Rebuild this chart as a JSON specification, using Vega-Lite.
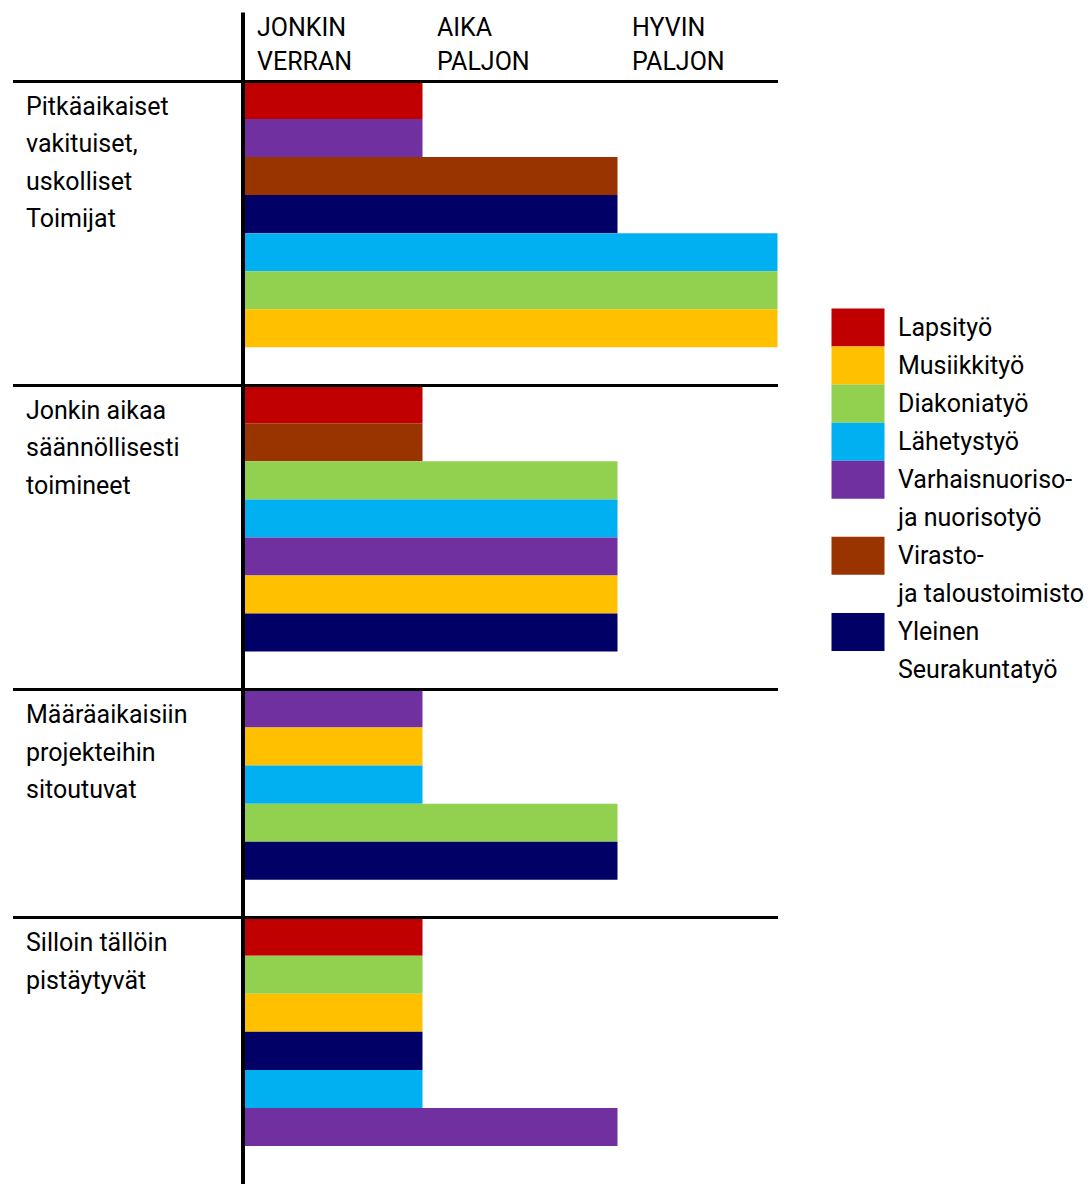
{
  "$schema": "https://vega.github.io/schema/vega-lite/v6.json",
  "background": "white",
  "padding": {"left": 10.5, "top": 10, "right": 0, "bottom": 0},
  "bounds": "flush",
  "spacing": 54,
  "config": {"view": {"stroke": null}, "font": "Roboto"},
  "datasets": {
    "palkit": [
      {"ryhma": "Pitkäaikaiset vakituiset, uskolliset Toimijat", "rivi": "1-1", "tyoala": "Lapsityö", "taso": 1},
      {"ryhma": "Pitkäaikaiset vakituiset, uskolliset Toimijat", "rivi": "1-2", "tyoala": "Varhaisnuoriso- ja nuorisotyö", "taso": 1},
      {"ryhma": "Pitkäaikaiset vakituiset, uskolliset Toimijat", "rivi": "1-3", "tyoala": "Virasto- ja taloustoimisto", "taso": 2},
      {"ryhma": "Pitkäaikaiset vakituiset, uskolliset Toimijat", "rivi": "1-4", "tyoala": "Yleinen Seurakuntatyö", "taso": 2},
      {"ryhma": "Pitkäaikaiset vakituiset, uskolliset Toimijat", "rivi": "1-5", "tyoala": "Lähetystyö", "taso": 3},
      {"ryhma": "Pitkäaikaiset vakituiset, uskolliset Toimijat", "rivi": "1-6", "tyoala": "Diakoniatyö", "taso": 3},
      {"ryhma": "Pitkäaikaiset vakituiset, uskolliset Toimijat", "rivi": "1-7", "tyoala": "Musiikkityö", "taso": 3},
      {"ryhma": "Jonkin aikaa säännöllisesti toimineet", "rivi": "2-1", "tyoala": "Lapsityö", "taso": 1},
      {"ryhma": "Jonkin aikaa säännöllisesti toimineet", "rivi": "2-2", "tyoala": "Virasto- ja taloustoimisto", "taso": 1},
      {"ryhma": "Jonkin aikaa säännöllisesti toimineet", "rivi": "2-3", "tyoala": "Diakoniatyö", "taso": 2},
      {"ryhma": "Jonkin aikaa säännöllisesti toimineet", "rivi": "2-4", "tyoala": "Lähetystyö", "taso": 2},
      {"ryhma": "Jonkin aikaa säännöllisesti toimineet", "rivi": "2-5", "tyoala": "Varhaisnuoriso- ja nuorisotyö", "taso": 2},
      {"ryhma": "Jonkin aikaa säännöllisesti toimineet", "rivi": "2-6", "tyoala": "Musiikkityö", "taso": 2},
      {"ryhma": "Jonkin aikaa säännöllisesti toimineet", "rivi": "2-7", "tyoala": "Yleinen Seurakuntatyö", "taso": 2},
      {"ryhma": "Määräaikaisiin projekteihin sitoutuvat", "rivi": "3-1", "tyoala": "Varhaisnuoriso- ja nuorisotyö", "taso": 1},
      {"ryhma": "Määräaikaisiin projekteihin sitoutuvat", "rivi": "3-2", "tyoala": "Musiikkityö", "taso": 1},
      {"ryhma": "Määräaikaisiin projekteihin sitoutuvat", "rivi": "3-3", "tyoala": "Lähetystyö", "taso": 1},
      {"ryhma": "Määräaikaisiin projekteihin sitoutuvat", "rivi": "3-4", "tyoala": "Diakoniatyö", "taso": 2},
      {"ryhma": "Määräaikaisiin projekteihin sitoutuvat", "rivi": "3-5", "tyoala": "Yleinen Seurakuntatyö", "taso": 2},
      {"ryhma": "Silloin tällöin pistäytyvät", "rivi": "4-1", "tyoala": "Lapsityö", "taso": 1},
      {"ryhma": "Silloin tällöin pistäytyvät", "rivi": "4-2", "tyoala": "Diakoniatyö", "taso": 1},
      {"ryhma": "Silloin tällöin pistäytyvät", "rivi": "4-3", "tyoala": "Musiikkityö", "taso": 1},
      {"ryhma": "Silloin tällöin pistäytyvät", "rivi": "4-4", "tyoala": "Yleinen Seurakuntatyö", "taso": 1},
      {"ryhma": "Silloin tällöin pistäytyvät", "rivi": "4-5", "tyoala": "Lähetystyö", "taso": 1},
      {"ryhma": "Silloin tällöin pistäytyvät", "rivi": "4-6", "tyoala": "Varhaisnuoriso- ja nuorisotyö", "taso": 2}
    ],
    "selite": [
      {"tyoala": "Lapsityö", "rivi": "Lapsityö"},
      {"tyoala": "Musiikkityö", "rivi": "Musiikkityö"},
      {"tyoala": "Diakoniatyö", "rivi": "Diakoniatyö"},
      {"tyoala": "Lähetystyö", "rivi": "Lähetystyö"},
      {"tyoala": "Varhaisnuoriso- ja nuorisotyö", "rivi": "Varhaisnuoriso-"},
      {"tyoala": "Virasto- ja taloustoimisto", "rivi": "Virasto-"},
      {"tyoala": "Yleinen Seurakuntatyö", "rivi": "Yleinen"}
    ]
  },
  "hconcat": [
    {
      "width": 535,
      "height": 1103,
      "data": {"name": "palkit"},
      "mark": {"type": "bar"},
      "encoding": {
        "x": {
          "field": "taso",
          "type": "quantitative",
          "scale": {"domain": [0, 1, 2, 3], "range": [0, 180, 375, 535], "nice": false, "zero": true},
          "axis": {
            "orient": "top",
            "values": [0, 1, 2],
            "title": null,
            "domain": false,
            "grid": false,
            "ticks": true,
            "tickSize": 69,
            "tickWidth": 4,
            "tickColor": {"condition": {"test": "datum.value == 0", "value": "black"}, "value": "transparent"},
            "labelExpr": "datum.value == 0 ? ['JONKIN', 'VERRAN'] : datum.value == 1 ? ['AIKA', 'PALJON'] : ['HYVIN', 'PALJON']",
            "labelAlign": "left",
            "labelBaseline": "top",
            "labelOffset": 14,
            "labelPadding": -3,
            "labelFont": "Roboto",
            "labelFontSize": 25,
            "labelLineHeight": 34,
            "labelColor": "black",
            "labelBound": false,
            "labelFlush": false,
            "labelOverlap": false
          }
        },
        "y": {
          "field": "rivi",
          "type": "nominal",
          "scale": {
            "domain": ["1-1","1-2","1-3","1-4","1-5","1-6","1-7","1-8","2-1","2-2","2-3","2-4","2-5","2-6","2-7","2-8","3-1","3-2","3-3","3-4","3-5","3-6","4-1","4-2","4-3","4-4","4-5","4-6","4-7"],
            "paddingInner": 0,
            "paddingOuter": 0
          },
          "axis": {
            "orient": "left",
            "values": ["1-1", "2-1", "3-1", "4-1"],
            "bandPosition": 0,
            "title": null,
            "domain": true,
            "domainColor": "black",
            "domainWidth": 4,
            "ticks": true,
            "tickSize": 230,
            "tickWidth": 3,
            "tickColor": "black",
            "grid": true,
            "gridColor": "black",
            "gridWidth": 3,
            "gridOpacity": 1,
            "labelExpr": "datum.value == '1-1' ? ['Pitkäaikaiset', 'vakituiset,', 'uskolliset', 'Toimijat'] : datum.value == '2-1' ? ['Jonkin aikaa', 'säännöllisesti', 'toimineet'] : datum.value == '3-1' ? ['Määräaikaisiin', 'projekteihin', 'sitoutuvat'] : ['Silloin tällöin', 'pistäytyvät']",
            "labelAlign": "left",
            "labelBaseline": "top",
            "labelPadding": -13,
            "labelOffset": -5.5,
            "labelFont": "Roboto",
            "labelFontSize": 25,
            "labelLineHeight": 37.5,
            "labelColor": "black",
            "labelLimit": 400,
            "labelBound": false,
            "labelOverlap": false,
            "labelFlush": false,
            "zindex": 1
          }
        },
        "color": {
          "field": "tyoala",
          "type": "nominal",
          "scale": {
            "domain": ["Lapsityö", "Musiikkityö", "Diakoniatyö", "Lähetystyö", "Varhaisnuoriso- ja nuorisotyö", "Virasto- ja taloustoimisto", "Yleinen Seurakuntatyö"],
            "range": ["#C00000", "#FFC000", "#92D050", "#00B0F0", "#7030A0", "#993300", "#000066"]
          },
          "legend": null
        }
      }
    },
    {
      "width": 53,
      "height": 1103,
      "data": {"name": "selite"},
      "mark": {"type": "rect"},
      "encoding": {
        "y": {
          "field": "rivi",
          "type": "nominal",
          "scale": {
            "domain": ["Lapsityö", "Musiikkityö", "Diakoniatyö", "Lähetystyö", "Varhaisnuoriso-", "ja nuorisotyö", "Virasto-", "ja taloustoimisto", "Yleinen", "Seurakuntatyö"],
            "range": [227.5, 608],
            "paddingInner": 0,
            "paddingOuter": 0
          },
          "axis": {
            "orient": "right",
            "title": null,
            "domain": false,
            "ticks": false,
            "grid": false,
            "labelPadding": 13,
            "labelFont": "Roboto",
            "labelFontSize": 25,
            "labelColor": "black",
            "labelLimit": 300,
            "labelOverlap": false,
            "labelBound": false
          }
        },
        "color": {
          "field": "tyoala",
          "type": "nominal",
          "scale": {
            "domain": ["Lapsityö", "Musiikkityö", "Diakoniatyö", "Lähetystyö", "Varhaisnuoriso- ja nuorisotyö", "Virasto- ja taloustoimisto", "Yleinen Seurakuntatyö"],
            "range": ["#C00000", "#FFC000", "#92D050", "#00B0F0", "#7030A0", "#993300", "#000066"]
          },
          "legend": null
        }
      }
    }
  ]
}
